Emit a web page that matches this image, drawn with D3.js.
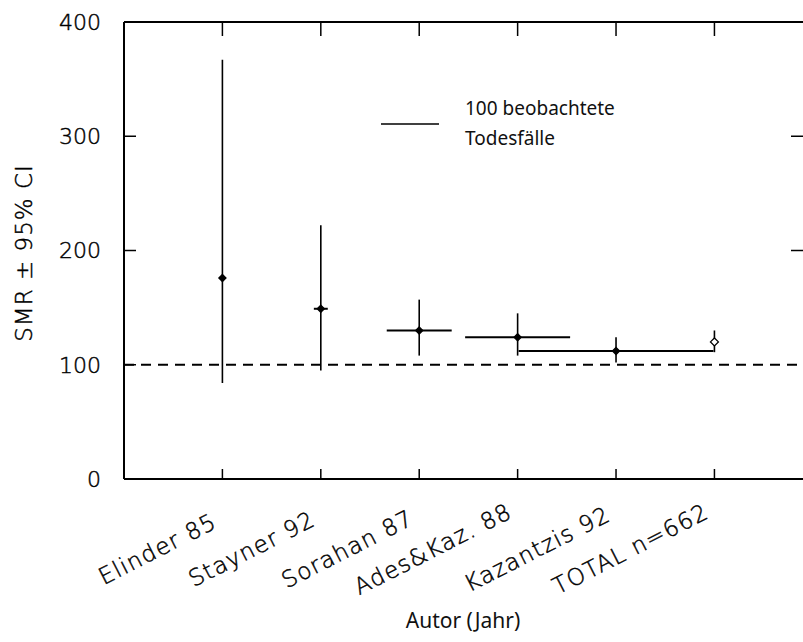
<!DOCTYPE html>
<html>
<head>
<meta charset="utf-8">
<script src="https://cdn.jsdelivr.net/npm/d3@7"></script>
<style>
  body { margin: 0; background: #fff; }
  .tick-label { font-family: "DejaVu Sans", "Liberation Sans", sans-serif; font-weight: 200; font-size: 22px;
                fill: #000; stroke: #000; stroke-width: 0.45px; }
  .gothic { font-family: "Noto Sans", "Lato", sans-serif; font-size: 19px; fill: #111; }
</style>
</head>
<body>
<svg id="chart" width="803" height="642"></svg>
<script>
const studies = ["Elinder 85", "Stayner 92", "Sorahan 87", "Ades&Kaz. 88", "Kazantzis 92", "TOTAL n=662"];
const smr     = [176, 149, 130, 124, 112, 120];
const ciLow   = [84, 95, 108, 108, 102, 111];
const ciHigh  = [367, 222, 157, 145, 124, 130];
const deaths  = [10, 24, 112, 181, 336, 0];
const yTicks  = [0, 100, 200, 300, 400];

const svg = d3.select("#chart");
const pLeft = 124, pRight = 803, pTop = 22, pBottom = 479;

const x = d3.scaleLinear().domain([0, 6.9]).range([pLeft, pRight]);
const y = d3.scaleLinear().domain([0, 400]).range([pBottom, pTop]);
// width of the horizontal bar in x units, per observed deaths
const w = d3.scaleLinear().domain([0, 100]).range([0, 58 / 98.4]);

// frame
svg.append("line").attr("x1", pLeft).attr("y1", pTop).attr("x2", pLeft).attr("y2", pBottom)
  .attr("stroke", "#000").attr("stroke-width", 2);
svg.append("line").attr("x1", pLeft).attr("y1", pBottom).attr("x2", pRight).attr("y2", pBottom)
  .attr("stroke", "#000").attr("stroke-width", 2);
svg.append("line").attr("x1", pLeft).attr("y1", pTop).attr("x2", pRight).attr("y2", pTop)
  .attr("stroke", "#000").attr("stroke-width", 2);

// y ticks (inward, both sides)
svg.selectAll(".ytl").data(yTicks.slice(1, 4)).join("line")
  .attr("x1", pLeft).attr("x2", pLeft + 12).attr("y1", d => y(d)).attr("y2", d => y(d))
  .attr("stroke", "#000").attr("stroke-width", 1.5);
svg.selectAll(".ytr").data(yTicks.slice(2, 4)).join("line")
  .attr("x1", pRight - 12).attr("x2", pRight).attr("y1", d => y(d)).attr("y2", d => y(d))
  .attr("stroke", "#000").attr("stroke-width", 1.5);
svg.selectAll(".ylab").data(yTicks).join("text")
  .attr("class", "tick-label")
  .attr("text-anchor", "end")
  .attr("x", 101).attr("y", d => y(d))
  .attr("dy", "0.36em")
  .text(d => d);

// x ticks (inward, top and bottom)
const idx = d3.range(1, 7);
svg.selectAll(".xtb").data(idx).join("line")
  .attr("x1", d => x(d)).attr("x2", d => x(d)).attr("y1", pBottom - 10).attr("y2", pBottom)
  .attr("stroke", "#000").attr("stroke-width", 1.5);
svg.selectAll(".xtt").data(idx).join("line")
  .attr("x1", d => x(d)).attr("x2", d => x(d)).attr("y1", pTop).attr("y2", pTop + 14)
  .attr("stroke", "#000").attr("stroke-width", 1.5);

const ang = 27;
svg.selectAll(".xlab").data(studies).join("text")
  .attr("class", "tick-label")
  .style("font-size", "23px")
  .style("letter-spacing", "1.2px")
  .attr("text-anchor", "middle")
  .text(d => d)
  .each(function (d, i) {
    const len = this.getComputedTextLength();
    const cx = x(i + 1) - 4 - len / 2 * Math.cos(ang * Math.PI / 180);
    d3.select(this).attr("transform", `translate(${cx},556) rotate(${-ang})`);
  });

// reference line at 100
svg.append("line").attr("x1", pLeft).attr("x2", pRight).attr("y1", y(100)).attr("y2", y(100))
  .attr("stroke", "#000").attr("stroke-width", 2).attr("stroke-dasharray", "10,7");

// error bars
const g = svg.append("g");
studies.forEach((s, i) => {
  g.append("line").attr("x1", x(i + 1)).attr("x2", x(i + 1))
    .attr("y1", y(ciLow[i])).attr("y2", y(ciHigh[i]))
    .attr("stroke", "#000").attr("stroke-width", 1.6);
  if (deaths[i] > 0) {
    g.append("line")
      .attr("x1", x(i + 1 - w(deaths[i]) / 2)).attr("x2", x(i + 1 + w(deaths[i]) / 2))
      .attr("y1", y(smr[i])).attr("y2", y(smr[i]))
      .attr("stroke", "#000").attr("stroke-width", 2);
  }
  const total = i === studies.length - 1;
  g.append("path")
    .attr("d", d3.symbol(d3.symbolDiamond2, total ? 40 : 32)())
    .attr("transform", `translate(${x(i + 1)},${y(smr[i])})`)
    .attr("fill", total ? "#fff" : "#000")
    .attr("stroke", "#000").attr("stroke-width", 1.3);
});

// legend
svg.append("line").attr("x1", 381).attr("x2", 381 + x(w(100)) - x(0))
  .attr("y1", 124).attr("y2", 124).attr("stroke", "#000").attr("stroke-width", 1.6);
svg.append("text").attr("class", "gothic").attr("x", 465).attr("y", 115).text("100 beobachtete");
svg.append("text").attr("class", "gothic").attr("x", 465).attr("y", 145).text("Todesfälle");

// axis titles
svg.append("text").attr("class", "tick-label")
  .attr("transform", "translate(32,253) rotate(-90)")
  .attr("text-anchor", "middle").style("font-size", "23px").style("letter-spacing", "1px")
  .text("SMR ± 95% CI");
svg.append("text").attr("class", "gothic").style("font-size", "21px")
  .attr("x", 463).attr("y", 628).attr("text-anchor", "middle").text("Autor (Jahr)");
</script>
</body>
</html>
